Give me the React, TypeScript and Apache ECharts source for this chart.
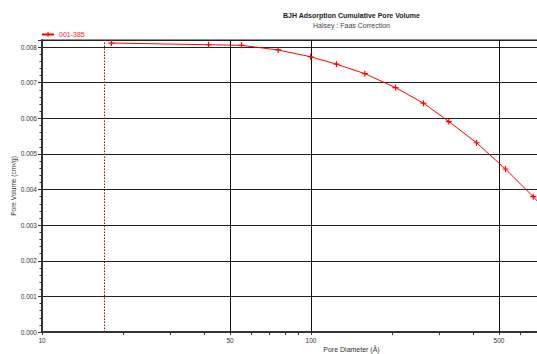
import React, { useEffect, useRef } from "react";
import * as echarts from "echarts";

const seriesName = "001-385";
const poreDiameter = [18.1, 41.6, 55.2, 75.5, 99.6, 124.4, 158.5, 206.1, 261.9, 325.3, 412.4, 528.4, 670, 850];
const poreVolume = [0.008115, 0.008067, 0.00805, 0.00792, 0.00773, 0.00752, 0.007255, 0.006863, 0.006426, 0.00591, 0.005314, 0.004577, 0.003801, 0.00296];
const xLabelValues = [10, 50, 100, 500];
const xTickValues = [10, 20, 30, 40, 50, 60, 70, 80, 90, 100, 200, 300, 400, 500, 600, 700, 800, 900, 1000, 2000];
const xGridValues = [50, 100, 500];
const markerDiameter = 17;
const xMin = 10;
const xMax = 2000;
const yMax = 0.0082;

const lg = (v: number) => Math.log10(v);

export default function App() {
  const ref = useRef<HTMLDivElement>(null);
  useEffect(() => {
    if (!ref.current) return;
    const chart = echarts.init(ref.current, null, { renderer: "svg" });
    const font = "Liberation Sans";
    const plus = "path://M2.4 0h1.2v6h-1.2zM0 2.4h6v1.2h-6z";
    chart.setOption({
      animation: false,
      backgroundColor: "#fff",
      title: {
        left: "center",
        top: 7,
        text: "BJH Adsorption Cumulative Pore Volume",
        subtext: "Halsey : Faas Correction",
        itemGap: 3,
        textStyle: { fontFamily: font, fontSize: 7, fontWeight: "bold", color: "#222" },
        subtextStyle: { fontFamily: font, fontSize: 7, color: "#444" },
      },
      legend: {
        left: 41,
        top: 31,
        itemWidth: 12,
        itemHeight: 6,
        itemGap: 5,
        padding: 0,
        textStyle: { fontFamily: font, fontSize: 7, color: "#ff2020" },
        data: [seriesName],
      },
      grid: {
        left: 42,
        right: 42,
        top: 40,
        bottom: 22,
        outerBoundsMode: "none",
        containLabel: false,
        show: true,
        borderColor: "#222",
        borderWidth: 1,
      },
      xAxis: {
        type: "value",
        min: lg(xMin),
        max: lg(xMax),
        name: "Pore Diameter (Å)",
        nameLocation: "middle",
        nameGap: 14,
        nameMoveOverlap: false,
        nameTextStyle: { fontFamily: font, fontSize: 7, color: "#333" },
        axisLine: { show: true, lineStyle: { color: "#333", width: 2 } },
        axisTick: { show: true, length: 3, lineStyle: { color: "#333" }, customValues: xTickValues.map(lg) },
        axisLabel: {
          fontFamily: font,
          fontSize: 6.5,
          color: "#333",
          margin: 5,
          customValues: xLabelValues.map(lg),
          formatter: (v: number) => String(Math.round(Math.pow(10, v))),
        },
        splitLine: { show: false },
      },
      yAxis: {
        type: "value",
        min: 0,
        max: yMax,
        interval: 0.001,
        name: "Pore Volume (cm³/g)",
        nameLocation: "middle",
        nameGap: 25,
        nameMoveOverlap: false,
        nameTextStyle: { fontFamily: font, fontSize: 6.5, color: "#333" },
        axisLine: { show: true, lineStyle: { color: "#333", width: 2 } },
        axisTick: { show: true, length: 4, lineStyle: { color: "#333" } },
        minorTick: { show: true, splitNumber: 5, length: 2.5, lineStyle: { color: "#333" } },
        axisLabel: {
          fontFamily: font,
          fontSize: 6.5,
          color: "#333",
          margin: 5,
          formatter: (v: number) => (v > 0.00805 ? "" : v.toFixed(3)),
        },
        splitLine: { show: true, lineStyle: { color: "#222", width: 1 } },
      },
      series: [
        {
          name: seriesName,
          type: "line",
          data: poreDiameter.map((d, i) => [lg(d), poreVolume[i]]),
          symbol: plus,
          symbolSize: 6,
          showAllSymbol: true,
          lineStyle: { color: "#ff0000", width: 1 },
          itemStyle: { color: "#ff0000" },
          z: 5,
          markLine: {
            silent: true,
            symbol: "none",
            label: { show: false },
            data: [
              ...xGridValues.map((v) => ({ xAxis: lg(v), lineStyle: { color: "#111", width: 1, type: "solid" } })),
              { xAxis: lg(markerDiameter), lineStyle: { color: "#b00000", width: 1, type: [1.5, 1.5] } },
            ],
          },
        },
      ],
    });
    return () => chart.dispose();
  }, []);
  return (
    <div style={{ position: "fixed", left: 0, top: 0, width: 537, height: 354, overflow: "hidden", background: "#fff" }}>
      <div ref={ref} style={{ width: 703, height: 354 }} />
    </div>
  );
}
